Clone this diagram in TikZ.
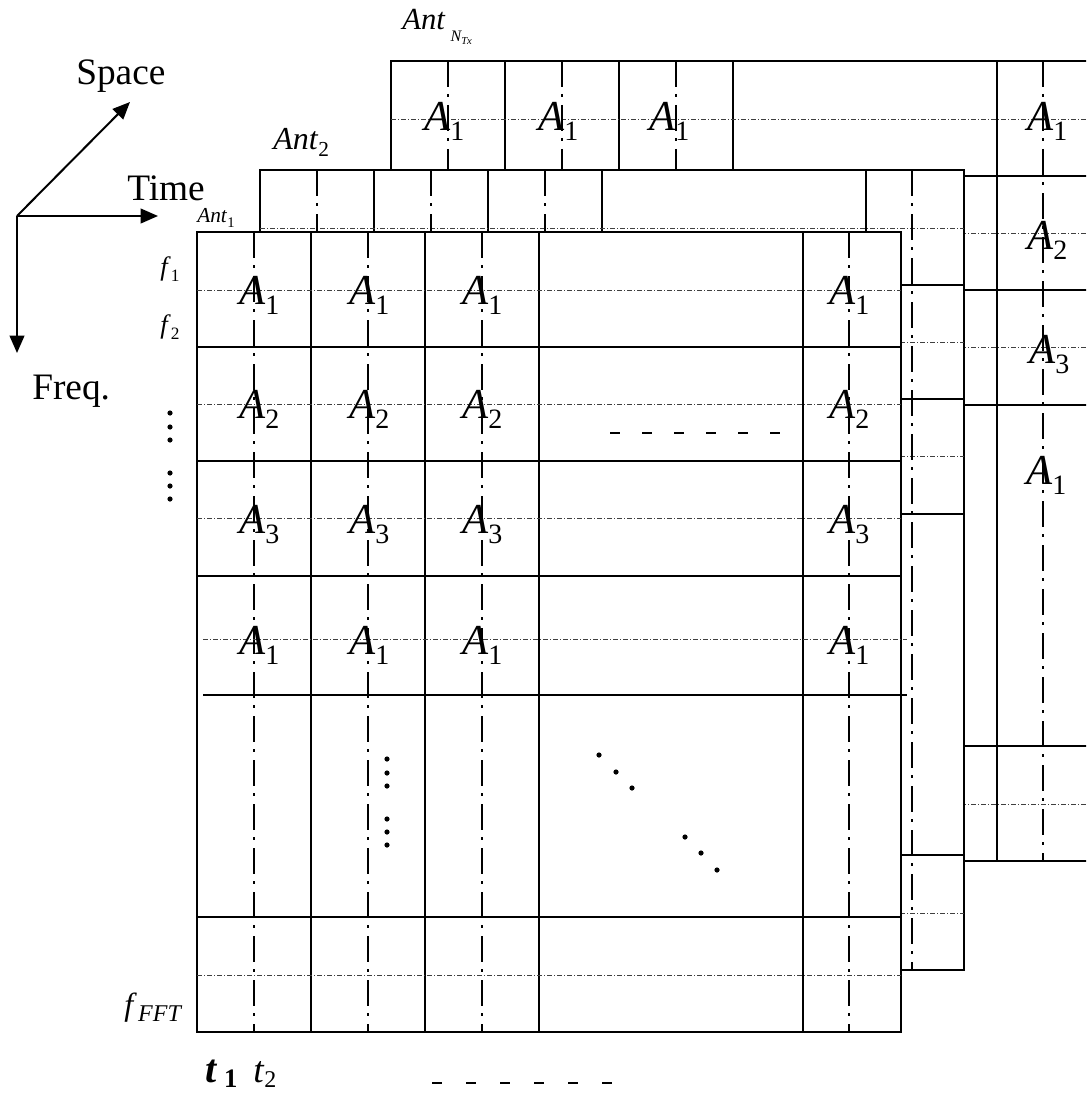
\documentclass[tikz,border=0pt]{standalone}
\usepackage{fontspec}
\setmainfont{Liberation Serif}
\usetikzlibrary{arrows.meta}
\newcommand{\myplane}{%
  \draw[grid, fill=white] (197,232) rectangle (901,1032);
  \foreach \x in {311,425,539,803} \draw[grid] (\x,232) -- (\x,1032);
  \foreach \y in {347,461,576,917} \draw[grid] (197,\y) -- (901,\y);
  \foreach \y in {290,404,518,975} \draw[hdd] (197,\y) -- (901,\y);
  \foreach \x in {254,368,482,849} \draw[vdd] (\x,232) -- (\x,1032);
}
\newcommand{\lsub}[1]{\raisebox{-7.5pt}{\fontsize{21}{21}\selectfont\upshape #1}}
\begin{document}
\begin{tikzpicture}[x=0.75pt,y=-0.75pt,
  grid/.style={line width=1.6pt},
  vdd/.style={line width=1.6pt, dash pattern=on 19.5pt off 5.25pt on 2.25pt off 6pt},
  hdd/.style={line width=0.6pt, black!75, dash pattern=on 3.75pt off 1.5pt on 0.75pt off 1.5pt},
  alab/.style={anchor=base west, inner sep=0pt, font=\fontsize{32}{32}\selectfont\itshape},
  axis/.style={line width=1.5pt, -{Triangle[length=13pt,width=11pt]}},
  lab/.style={anchor=base west, inner sep=0pt},
  dotm/.style={fill=black},
  dsh/.style={line width=2pt}
]
\useasboundingbox (0,0) rectangle (1086,1095);

% ---- plane 3 (Ant_NTx)
\begin{scope}
  \clip (0,0) rectangle (1086,1095);
  \begin{scope}[shift={(194,-171)}]
    \myplane
  \end{scope}
\end{scope}
\foreach \xa/\c in {424/a,538/b,649/c,1027/d}
  \node[alab] (P3-\c) at (\xa,131) {A\lsub{1}};
\node[alab] (P3-r2) at (1027,249) {A\lsub{2}};
\node[alab] (P3-r3) at (1029,363) {A\lsub{3}};
\node[alab] (P3-r4) at (1026,484) {A\lsub{1}};

% ---- plane 2 (Ant_2)
\begin{scope}[shift={(63,-62)}]
  \myplane
\end{scope}

% ---- plane 1 (Ant_1)
\myplane
\draw[grid] (203,695) -- (907,695);
\draw[hdd] (203,639) -- (907,639);
\foreach \xa/\c in {239/a,349/b,462/c,829/d}
  \foreach \yb/\s/\r in {304/1/r1,418/2/r2,533/3/r3,654/1/r4}
    \node[alab] (A-\c-\r) at (\xa,\yb) {A\lsub{\s}};

% ---- dashes and dots
\foreach \x in {610,642,674,706,738,770} \draw[dsh] (\x,433) -- ++(10,0);
\foreach \x in {432,466,500,534,568,602} \draw[dsh] (\x,1083) -- ++(10,0);
\foreach \x/\y in {599/755,616/772,632/788,685/837,701/853,717/870} \fill[dotm] (\x,\y) circle (2.6);
\foreach \y in {759,773,786,819,832,845} \fill[dotm] (387,\y) circle (2.6);
\foreach \y in {413,427,440,473,486,499} \fill[dotm] (170,\y) circle (2.6);

% ---- axes
\coordinate (o) at (17,216);
\coordinate (sp) at (130,102);
\coordinate (tm) at (158,216);
\coordinate (fq) at (17,353);
\draw[axis] (o) -- (sp);
\draw[axis] (o) -- (tm);
\draw[axis] (o) -- (fq);
\node[lab, font=\fontsize{28}{28}\selectfont] (space) at (76,85) {Space};
\node[lab, font=\fontsize{28}{28}\selectfont] (time) at (127,200) {Time};
\node[lab, font=\fontsize{28}{28}\selectfont] (freq) at (32,399) {Freq.};

% ---- antenna labels
\node[lab, font=\fontsize{16}{16}\selectfont] (ant1) at (197,222) {\textit{Ant}\raisebox{-3.75pt}{\fontsize{11}{11}\selectfont 1}};
\node[lab, font=\fontsize{24}{24}\selectfont] (ant2) at (273,150) {\textit{Ant}\raisebox{-5pt}{\fontsize{16}{16}\selectfont 2}};
\node[lab, font=\fontsize{23}{23}\selectfont] (antN) at (402,30) {\textit{Ant}\,\raisebox{-9pt}{\fontsize{12}{12}\selectfont\itshape N\raisebox{-2pt}{\fontsize{8}{8}\selectfont Tx}}};

% ---- frequency labels
\node[lab, font=\fontsize{20}{20}\selectfont] (f1) at (160,275) {\textit{f}\raisebox{-5pt}{\fontsize{13}{13}\selectfont 1}};
\node[lab, font=\fontsize{20}{20}\selectfont] (f2) at (160,333) {\textit{f}\raisebox{-5pt}{\fontsize{13}{13}\selectfont 2}};
\node[lab, font=\fontsize{24}{24}\selectfont] (fF) at (124,1015) {\textit{f}\kern1pt\raisebox{-5pt}{\fontsize{18}{18}\selectfont\itshape FFT}};

% ---- time labels
\node[lab, font=\fontsize{30}{30}\selectfont] (t1) at (205,1082) {\textbf{\textit{t}}\,\raisebox{-4pt}{\fontsize{20}{20}\selectfont\bfseries 1}};
\node[lab, font=\fontsize{28}{28}\selectfont] (t2) at (253,1082) {\textit{t}\raisebox{-4pt}{\fontsize{18}{18}\selectfont 2}};
\end{tikzpicture}
\end{document}
